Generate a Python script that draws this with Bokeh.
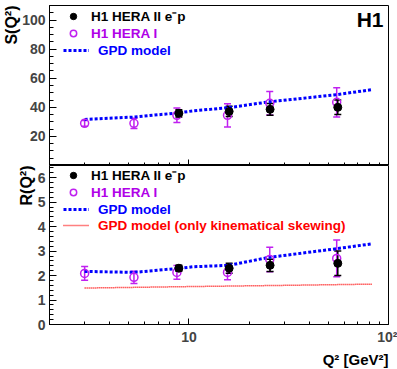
import math
from bokeh.plotting import figure
from bokeh.layouts import column
from bokeh.models import (ColumnDataSource, Whisker, TeeHead, FixedTicker, Label,
                          Legend, LegendItem, Range1d, Title)
from bokeh.embed import file_html
from bokeh.resources import INLINE
from bokeh.core.properties import value

# ---------------- data ----------------
q2_hera2 = [8.9, 15.9, 25.5, 55.7]
q2_hera1 = [3.0, 5.3, 8.7, 15.6, 25.4, 55.0]

S_hera2 = [35.9, 37.2, 38.6, 40.0]
S_hera2_err = [2.5, 3.5, 4.0, 5.0]
S_hera1 = [29.0, 29.0, 34.5, 34.5, 42.8, 43.4]
S_hera1_err = [2.0, 3.5, 5.0, 8.0, 8.0, 10.0]

R_hera2 = [2.30, 2.30, 2.42, 2.50]
R_hera2_err = [0.12, 0.20, 0.25, 0.50]
R_hera1 = [2.09, 1.93, 2.13, 2.13, 2.66, 2.70]
R_hera1_err = [0.28, 0.25, 0.28, 0.30, 0.50, 0.75]

q2_model = [3.0, 5.3, 9.0, 10.5, 15.9, 25.0, 55.0, 83.0]
S_model = [31.7, 33.3, 36.3, 37.6, 39.8, 43.7, 48.7, 52.2]
R_model = [2.17, 2.13, 2.30, 2.36, 2.42, 2.74, 3.10, 3.30]

q2_kin = [3.0, 10.0, 30.0, 83.0]
R_kin = [1.49, 1.55, 1.60, 1.65]

x_major = [10, 100]
x_major_labels = {10: "10", 100: "10\u00b2"}
x_minor = [3, 4, 5, 6, 7, 8, 9, 20, 30, 40, 50, 60, 70, 80, 90]
S_major = [20, 40, 60, 80, 100]
S_minor = list(range(0, 111, 5))
R_major = [0, 1, 2, 3, 4, 5, 6]
R_minor = [round(0.2 * i, 1) for i in range(33)]

# ---------------- style ----------------
FONT = "Liberation Sans"
MAG = "#c020f0"
MAG_TXT = "#b000e8"
BLUE = "#0000ff"
RED = "#ff0000"
W = 397
FRAME_LEFT = 48
FRAME_RIGHT_PAD = 9
TOP_H = 165
BOT_H = 204
TOP_FRAME = 160
BOT_FRAME = 160
LEG_FS = "13.5px"

xr = Range1d(2.0, 100.0)


def style_axes(p, show_x_labels):
    p.outline_line_color = "black"
    p.outline_line_width = 1
    p.xgrid.visible = False
    p.ygrid.visible = False
    p.background_fill_color = "white"
    p.border_fill_color = "white"
    for ax in p.yaxis:
        ax.major_tick_in = 7
        ax.major_tick_out = 0
        ax.minor_tick_in = 4
        ax.minor_tick_out = 0
        ax.axis_line_color = "black"
        ax.major_label_text_font = FONT
        ax.major_label_text_font_style = "bold"
        ax.major_label_text_font_size = "14px"
        ax.major_label_standoff = 4
    for ax in p.xaxis:
        ax.major_tick_in = 6
        ax.major_tick_out = 0
        ax.minor_tick_in = 3
        ax.minor_tick_out = 0
        ax.axis_line_color = "black"
        ax.ticker = FixedTicker(ticks=x_major, minor_ticks=x_minor)
        ax.major_label_overrides = x_major_labels
        ax.major_label_text_font = FONT
        ax.major_label_text_font_style = "bold"
        if show_x_labels:
            ax.major_label_text_font_size = "14px"
            ax.major_label_standoff = 4
        else:
            ax.major_label_text_font_size = "1px"
            ax.major_label_text_alpha = 0.0
            ax.major_label_standoff = 0


def add_points(p, xs, ys, errs, color, filled):
    src = ColumnDataSource(dict(x=xs, y=ys,
                                lo=[y - e for y, e in zip(ys, errs)],
                                hi=[y + e for y, e in zip(ys, errs)]))
    wh = Whisker(source=src, base="x", upper="hi", lower="lo",
                 line_color=color, line_width=1.5,
                 upper_head=TeeHead(size=7, line_color=color, line_width=1.5),
                 lower_head=TeeHead(size=7, line_color=color, line_width=1.5))
    p.add_layout(wh)
    if filled:
        r = p.scatter("x", "y", source=src, size=8, marker="circle",
                      fill_color=color, line_color=color)
    else:
        r = p.scatter("x", "y", source=src, size=8, marker="circle",
                      fill_color="white", fill_alpha=0.0, line_color=color, line_width=1.5)
    return r


def add_legend(p, renderer, text, color, row_center_from_top, frame_h, glyph_w, standoff):
    h = 16
    lg = Legend(items=[LegendItem(label=value(text), renderers=[renderer])],
                location=(14, int(frame_h - row_center_from_top - h / 2)),
                glyph_width=glyph_w, glyph_height=h, label_height=h,
                label_standoff=standoff, padding=0, margin=0, spacing=0,
                border_line_alpha=0, background_fill_alpha=0,
                label_text_font=FONT, label_text_font_style="bold",
                label_text_font_size=LEG_FS, label_text_color=color)
    p.add_layout(lg)


def side_title(p, text, side, align, size, standoff=0):
    t = Title(text=text, align=align, text_font=FONT, text_font_style="bold",
              text_font_size=size, text_color="black", standoff=standoff)
    p.add_layout(t, side)


# ---------------- top panel: S(Q^2) ----------------
p1 = figure(width=W, height=TOP_H, x_axis_type="log", x_range=xr,
            y_range=Range1d(0, 110), output_backend="svg", toolbar_location=None,
            min_border_left=FRAME_LEFT, min_border_right=FRAME_RIGHT_PAD,
            min_border_top=5, min_border_bottom=0)
style_axes(p1, show_x_labels=False)
p1.yaxis.ticker = FixedTicker(ticks=S_major, minor_ticks=S_minor)

r_s_model = p1.line(q2_model, S_model, line_color=BLUE, line_width=3, line_dash="3 2")
r_s1 = add_points(p1, q2_hera1, S_hera1, S_hera1_err, MAG, filled=False)
r_s2 = add_points(p1, q2_hera2, S_hera2, S_hera2_err, "black", filled=True)

add_legend(p1, r_s2, "H1 HERA II e\u207bp", "black", 12, TOP_FRAME, 20, 8)
add_legend(p1, r_s1, "H1 HERA I", MAG_TXT, 28, TOP_FRAME, 20, 8)
add_legend(p1, r_s_model, "GPD model", BLUE, 45, TOP_FRAME, 26, 9)

p1.add_layout(Label(x=100, y=110, x_offset=-5, y_offset=-2, text="H1",
                    text_align="right", text_baseline="top",
                    text_font=FONT, text_font_style="bold",
                    text_font_size="21px", text_color="black"))
side_title(p1, "S(Q\u00b2)", "left", "right", "16px")

# ---------------- bottom panel: R(Q^2) ----------------
p2 = figure(width=W, height=BOT_H, x_axis_type="log", x_range=xr,
            y_range=Range1d(0, 6.5), output_backend="svg", toolbar_location=None,
            min_border_left=FRAME_LEFT, min_border_right=FRAME_RIGHT_PAD,
            min_border_top=0, min_border_bottom=BOT_H - BOT_FRAME)
style_axes(p2, show_x_labels=True)
p2.yaxis.ticker = FixedTicker(ticks=R_major, minor_ticks=R_minor)

r_r_kin = p2.line(q2_kin, R_kin, line_color=RED, line_width=1.5, line_dash="1 1")
r_r_model = p2.line(q2_model, R_model, line_color=BLUE, line_width=3, line_dash="3 2")
r_r1 = add_points(p2, q2_hera1, R_hera1, R_hera1_err, MAG, filled=False)
r_r2 = add_points(p2, q2_hera2, R_hera2, R_hera2_err, "black", filled=True)

add_legend(p2, r_r2, "H1 HERA II e\u207bp", "black", 12, BOT_FRAME, 20, 8)
add_legend(p2, r_r1, "H1 HERA I", MAG_TXT, 28, BOT_FRAME, 20, 8)
add_legend(p2, r_r_model, "GPD model", BLUE, 45, BOT_FRAME, 26, 9)
add_legend(p2, r_r_kin, "GPD model (only kinematical skewing)", RED, 61, BOT_FRAME, 26, 9)

side_title(p2, "R(Q\u00b2)", "left", "right", "16px")
side_title(p2, "Q\u00b2 [GeV\u00b2]", "below", "right", "15px", standoff=3)

layout = column(p1, p2, spacing=0)
open("out.html", "w").write(file_html(layout, INLINE))
